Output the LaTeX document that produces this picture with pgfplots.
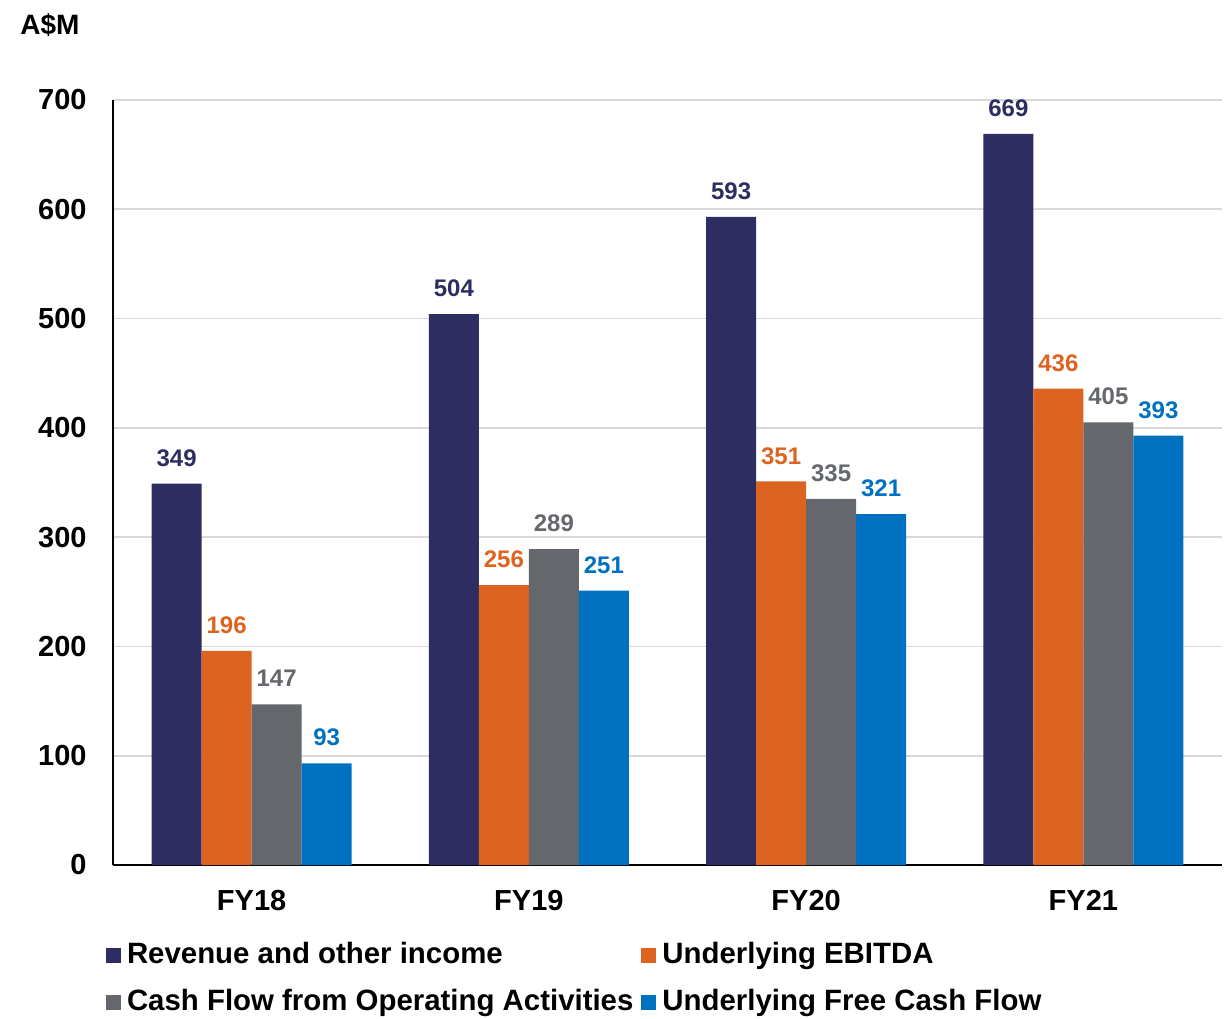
\documentclass[border=0pt]{standalone}
\usepackage{pgfplots}
\pgfplotsset{compat=1.18}
\usepackage{fontspec}
\setmainfont{Liberation Sans}
\definecolor{cNavy}{HTML}{2E2D62}
\definecolor{cOrange}{HTML}{DD6420}
\definecolor{cGray}{HTML}{64676B}
\definecolor{cBlue}{HTML}{0070C0}
\definecolor{cGrid}{HTML}{D9D9D9}
\begin{document}
\begin{tikzpicture}
\path[use as bounding box] (0,0) rectangle (616pt,509pt);
\node[anchor=base west, inner sep=0pt, font=\bfseries\fontsize{14}{14}\selectfont] at (10pt,491.5pt) {A\$M};
\begin{axis}[
  at={(56.5pt,76.5pt)}, anchor=south west,
  scale only axis, width=554.5pt, height=382.5pt,
  ybar=0pt, bar width=25pt,
  xmin=-0.5, xmax=3.5, ymin=0, ymax=700,
  xtick={0,1,2,3}, xticklabels={FY18,FY19,FY20,FY21},
  ytick={0,100,...,700},
  major tick length=0pt,
  axis x line*=bottom, axis y line*=left,
  axis line style={black, line width=1pt, -},
  ymajorgrids, grid style={cGrid, line width=0.9pt},
  /pgf/number format/assume math mode=true,
  yticklabel style={font=\bfseries\fontsize{14.5}{14.5}\selectfont, inner sep=0pt, xshift=-13pt},
  xticklabel style={font=\bfseries\fontsize{14.5}{14.5}\selectfont, inner sep=0pt, yshift=-12.5pt},
  nodes near coords,
  every node near coord/.append style={font=\bfseries\fontsize{12}{12}\selectfont, inner sep=0pt, text depth=0pt, yshift=8.5pt},
  legend columns=2,
  legend cell align=left,
  legend image code/.code={\fill[#1] (0pt,-3.75pt) rectangle (7.5pt,3.75pt);},
  legend style={at={(axis description cs:-0.0063,-0.1007)}, anchor=north west, draw=none, fill=none, inner sep=0pt, outer sep=0pt,
    font=\bfseries\fontsize{14.7}{14.7}\selectfont, row sep=10.5pt,
    nodes={inner sep=0pt, text height=10.5pt, text depth=2.5pt},
    /tikz/every odd column/.append style={column sep=3pt},
    /tikz/every even column/.append style={column sep=4pt}},
]
\addplot[fill=cNavy, draw=none, every node near coord/.append style={text=cNavy}] coordinates {(0,349) (1,504) (2,593) (3,669)};
\addplot[fill=cOrange, draw=none, every node near coord/.append style={text=cOrange}] coordinates {(0,196) (1,256) (2,351) (3,436)};
\addplot[fill=cGray, draw=none, every node near coord/.append style={text=cGray}] coordinates {(0,147) (1,289) (2,335) (3,405)};
\addplot[fill=cBlue, draw=none, every node near coord/.append style={text=cBlue}] coordinates {(0,93) (1,251) (2,321) (3,393)};
\legend{Revenue and other income, Underlying EBITDA, Cash Flow from Operating Activities, Underlying Free Cash Flow}
\end{axis}
\end{tikzpicture}
\end{document}
